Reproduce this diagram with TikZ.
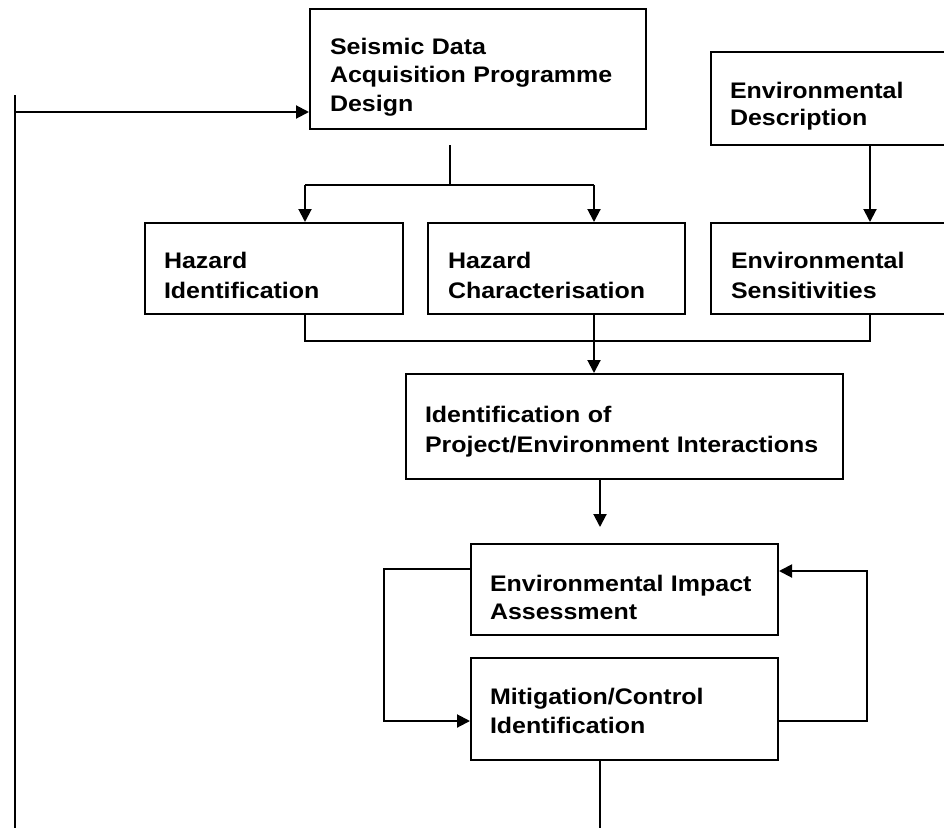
\documentclass[tikz,border=0pt]{standalone}
\usepackage{fontspec}
\setmainfont{Liberation Sans}[FakeStretch=1.11]
\usetikzlibrary{arrows.meta}
% #1 first-baseline offset, #2 line spacing, #3 depth below last baseline
\newcommand\twolines[5]{\rule{0pt}{#1pt}#4\\[\dimexpr#2pt-28pt\relax]#5\rule[-#3pt]{0pt}{#3pt}}
\begin{document}
\begin{tikzpicture}[x=1pt,y=-1pt,
  box/.style={draw, line width=2pt, anchor=north west, inner ysep=0pt, align=left,
    font=\fontsize{22.5}{28}\selectfont\bfseries},
  link/.style={line width=2pt},
  arr/.style={link, -{Triangle[length=13pt,width=13pt]}}]
\useasboundingbox (0,0) rectangle (944,827);
% boxes
\node[box, inner xsep=20pt, text width=296pt] (sda) at (309,8)
  {\rule{0pt}{45pt}Seismic Data\\[0.5pt]\mbox{Acquisition Programme}\\[0.5pt]Design\rule[-18pt]{0pt}{18pt}};
\node[box, inner xsep=19pt, text width=207pt] (envd) at (710,51)
  {\twolines{46}{27}{20}{Environmental}{Description}};
\node[box, inner xsep=19pt, text width=220pt] (hid) at (144,222)
  {\twolines{45}{30}{16}{Hazard}{Identification}};
\node[box, inner xsep=20pt, text width=217pt] (hch) at (427,222)
  {\twolines{45}{30}{16}{Hazard}{Characterisation}};
\node[box, inner xsep=20pt, text width=205pt] (envs) at (710,222)
  {\twolines{45}{30}{16}{Environmental}{Sensitivities}};
\node[box, inner xsep=19pt, text width=399pt] (ipe) at (405,373)
  {\twolines{48}{30}{27}{Identification of}{\mbox{Project/Environment Interactions}}};
\node[box, inner xsep=19pt, text width=269pt] (eia) at (470,543)
  {\twolines{47}{28}{16}{\mbox{Environmental Impact}}{Assessment}};
\node[box, inner xsep=19pt, text width=269pt] (mit) at (470,657)
  {\twolines{46}{29}{27}{Mitigation/Control}{Identification}};
% coordinates
\coordinate (tl) at (15,95);
\coordinate (bl) at (15,835);
\coordinate (lj) at (15,112);
\coordinate (sj) at (450,185);
\coordinate (hl) at (305,185);
\coordinate (hr) at (594,185);
\coordinate (ex) at (870,0);
\coordinate (b1) at (305,341);
\coordinate (b2) at (594,341);
\coordinate (b3) at (870,341);
\coordinate (c1) at (600,0);
\coordinate (ll) at (384,569);
\coordinate (ll2) at (384,721);
\coordinate (rl) at (867,721);
\coordinate (rl2) at (867,571);
% connectors
\draw[link] (tl) -- (bl);
\draw[arr] (lj) -- (lj -| sda.west);
\draw[link, shorten <=15pt] (sda.south -| sj) -- (sj);
\draw[link] (hl) -- (hr);
\draw[arr] (hl) -- (hl |- hid.north);
\draw[arr] (hr) -- (hr |- hch.north);
\draw[arr] (envd.south -| ex) -- (envs.north -| ex);
\draw[link] (hid.south -| b1) -- (b1) -- (b3) -- (envs.south -| b3);
\draw[arr] (hch.south -| b2) -- (ipe.north -| b2);
\draw[arr, shorten >=16pt] (ipe.south -| c1) -- (eia.north -| c1);
\draw[arr] (eia.west |- ll) -- (ll) -- (ll2) -- (mit.west |- ll2);
\draw[arr] (mit.east |- rl) -- (rl) -- (rl2) -- (eia.east |- rl2);
\draw[link] (mit.south -| c1) -- (c1 |- bl);
\end{tikzpicture}
\end{document}
